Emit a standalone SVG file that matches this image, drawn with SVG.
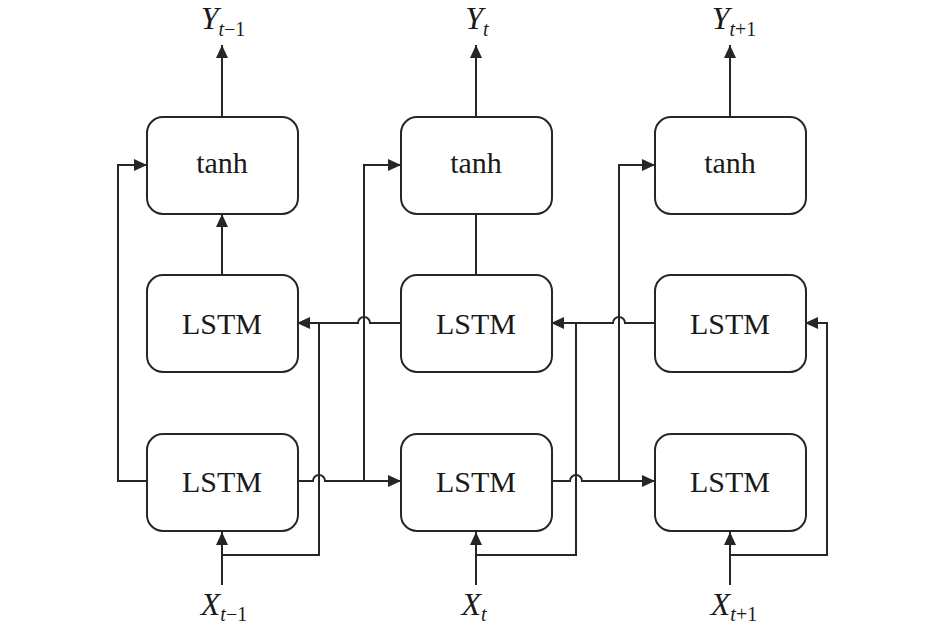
<svg xmlns="http://www.w3.org/2000/svg" width="945" height="634" viewBox="0 0 945 634">
<style>
.box{fill:#fff;stroke:#262626;stroke-width:2}
.lbl{font-family:"Liberation Serif","Times New Roman",serif;font-size:30px;fill:#1a1a1a;text-anchor:middle}
.var{font-family:"Liberation Serif","Times New Roman",serif;font-size:32px;fill:#1a1a1a;text-anchor:middle}
.it{font-style:italic}
.sub{font-size:20px}
.c{fill:none;stroke:#262626;stroke-width:2}
</style>
<defs>
<marker id="ah" markerUnits="userSpaceOnUse" markerWidth="14" markerHeight="12" refX="13" refY="6" orient="auto">
<path d="M0,0 L13,6 L0,12 z" fill="#262626"/>
</marker>
</defs>
<rect width="945" height="634" fill="#fff"/>
<g id="connectors">
<path class="c" d="M222,117 V45" marker-end="url(#ah)"/>
<path class="c" d="M222,275 V214" marker-end="url(#ah)"/>
<path class="c" d="M147,481 H118 V165 H147" marker-end="url(#ah)"/>
<path class="c" d="M297,481 H313 a6,6 0 0 1 12,0 H401" marker-end="url(#ah)"/>
<path class="c" d="M364,481 V165 H401" marker-end="url(#ah)"/>
<path class="c" d="M222,585 V532" marker-end="url(#ah)"/>
<path class="c" d="M222,555 H319 V323"/>
<path class="c" d="M401,323 H370 a6,6 0 0 0 -12,0 H297" marker-end="url(#ah)"/>
<path class="c" d="M476,117 V45" marker-end="url(#ah)"/>
<path class="c" d="M476,214 V275"/>
<path class="c" d="M551,481 H570 a6,6 0 0 1 12,0 H655" marker-end="url(#ah)"/>
<path class="c" d="M619,481 V165 H655" marker-end="url(#ah)"/>
<path class="c" d="M476,585 V532" marker-end="url(#ah)"/>
<path class="c" d="M476,555 H576 V323"/>
<path class="c" d="M655,323 H625 a6,6 0 0 0 -12,0 H551" marker-end="url(#ah)"/>
<path class="c" d="M730,117 V45" marker-end="url(#ah)"/>
<path class="c" d="M730,585 V532" marker-end="url(#ah)"/>
<path class="c" d="M730,555 H827 V323 H805" marker-end="url(#ah)"/>
</g>
<g id="tanh1"><rect class="box" x="147" y="117" width="151" height="97" rx="16"/><text class="lbl" x="222" y="173">tanh</text></g>
<g id="tanh2"><rect class="box" x="401" y="117" width="151" height="97" rx="16"/><text class="lbl" x="476" y="173">tanh</text></g>
<g id="tanh3"><rect class="box" x="655" y="117" width="151" height="97" rx="16"/><text class="lbl" x="730" y="173">tanh</text></g>
<g id="lstm_b1"><rect class="box" x="147" y="275" width="151" height="97" rx="16"/><text class="lbl" x="222" y="334">LSTM</text></g>
<g id="lstm_b2"><rect class="box" x="401" y="275" width="151" height="97" rx="16"/><text class="lbl" x="476" y="334">LSTM</text></g>
<g id="lstm_b3"><rect class="box" x="655" y="275" width="151" height="97" rx="16"/><text class="lbl" x="730" y="334">LSTM</text></g>
<g id="lstm_f1"><rect class="box" x="147" y="434" width="151" height="97" rx="16"/><text class="lbl" x="222" y="492">LSTM</text></g>
<g id="lstm_f2"><rect class="box" x="401" y="434" width="151" height="97" rx="16"/><text class="lbl" x="476" y="492">LSTM</text></g>
<g id="lstm_f3"><rect class="box" x="655" y="434" width="151" height="97" rx="16"/><text class="lbl" x="730" y="492">LSTM</text></g>
<g id="y1"><text class="var" x="223" y="29"><tspan class="it">Y</tspan><tspan class="sub it" dy="7">t</tspan><tspan class="sub">−1</tspan></text></g>
<g id="y2"><text class="var" x="477" y="29"><tspan class="it">Y</tspan><tspan class="sub it" dy="7">t</tspan></text></g>
<g id="y3"><text class="var" x="734" y="29"><tspan class="it">Y</tspan><tspan class="sub it" dy="7">t</tspan><tspan class="sub">+1</tspan></text></g>
<g id="x1"><text class="var" x="224" y="615"><tspan class="it">X</tspan><tspan class="sub it" dy="6">t</tspan><tspan class="sub">−1</tspan></text></g>
<g id="x2"><text class="var" x="474" y="615"><tspan class="it">X</tspan><tspan class="sub it" dy="6">t</tspan></text></g>
<g id="x3"><text class="var" x="734" y="615"><tspan class="it">X</tspan><tspan class="sub it" dy="6">t</tspan><tspan class="sub">+1</tspan></text></g>
</svg>
